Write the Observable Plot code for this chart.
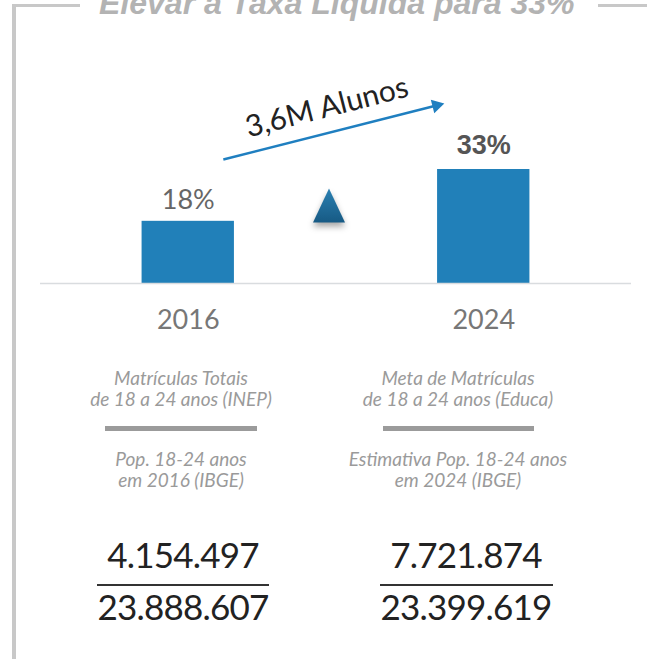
<!DOCTYPE html>
<html>
<head>
<meta charset="utf-8">
<script src="https://cdn.jsdelivr.net/npm/d3@7"></script>
<script src="https://cdn.jsdelivr.net/npm/@observablehq/plot@0.6"></script>
<style>
  html, body { margin: 0; padding: 0; background: #fff; }
  #wrap { position: relative; width: 647px; height: 659px; overflow: hidden; font-family: Lato, sans-serif; }
  #wrap svg { position: absolute; left: 0; top: 0; }
  .frame { position: absolute; background: #c8c8c8; z-index: 2; }
  .title { position: absolute; left: 99px; top: -15px; line-height: 36px; font-family: "Liberation Sans", Arial, sans-serif;
           font-weight: bold; font-style: italic; font-size: 32px; color: #b3b3b3; white-space: nowrap; z-index: 3; }
  .cap { position: absolute; width: 320px; text-align: center; font-style: italic; font-size: 19px; line-height: 21px;
         color: #9a9a9a; white-space: nowrap; }
  .capbar { position: absolute; height: 5px; background: #9b9b9b; }
  .num { position: absolute; width: 260px; text-align: center; font-size: 35px; line-height: 40px; color: #222;
         letter-spacing: -0.8px; white-space: nowrap; }
  .fracbar { position: absolute; height: 2px; background: #333; }
</style>
</head>
<body>
<div id="wrap"></div>
<script>
// ---- data ----
const title = "Elevar a Taxa Líquida para 33%";
const years = [2016, 2024];
const rates = [18, 33];
const rateLabels = ["18%", "33%"];
const growthLabel = "3,6M Alunos";
const numeratorCaptions = [["Matrículas Totais", "de 18 a 24 anos (INEP)"], ["Meta de Matrículas", "de 18 a 24 anos (Educa)"]];
const denominatorCaptions = [["Pop. 18-24 anos", "em 2016 (IBGE)"], ["Estimativa Pop. 18-24 anos", "em 2024 (IBGE)"]];
const numerators = ["4.154.497", "7.721.874"];
const denominators = ["23.888.607", "23.399.619"];

const bars = years.map((year, i) => ({year, rate: rates[i], label: rateLabels[i]}));

// annotation geometry (in data units)
const arrow = {x1: 2016.95, y1: 35.9, x2: 2022.72, y2: 51.55, label: growthLabel};
const marker = {x: d3.mean(years), y: 22.6};

const tallTriangle = {
  draw(ctx) { ctx.moveTo(0, -17); ctx.lineTo(16, 17); ctx.lineTo(-16, 17); ctx.closePath(); }
};

const blue = "#2180b9";

const svg = Plot.plot({
  width: 647,
  height: 345,
  marginLeft: 40,
  marginRight: 16,
  marginTop: 0,
  marginBottom: 62,
  style: {fontFamily: "Lato, sans-serif", background: "transparent", overflow: "visible"},
  x: {type: "linear", domain: [2012, 2028], range: [40, 631]},
  y: {domain: [0, 33], range: [283, 169], axis: null},
  marks: [
    Plot.rectY(bars, {x1: d => d.year - 1.25, x2: d => d.year + 1.25, y1: 0, y2: "rate", fill: blue}),
    Plot.ruleY([0], {stroke: "#d9dcdf", strokeWidth: 1.5}),
    Plot.text(bars.filter(d => d.rate < 30), {x: "year", y: "rate", text: "label", lineAnchor: "bottom", dy: -12,
      fontSize: 27, fill: "#666", fontFamily: "Lato"}),
    Plot.text(bars.filter(d => d.rate >= 30), {x: "year", y: "rate", text: "label", lineAnchor: "bottom", dy: -16,
      fontSize: 27, fontWeight: "bold", fill: "#555", fontFamily: "Liberation Sans, Arial, sans-serif"}),
    Plot.axisX({ticks: years, tickFormat: d => String(d), tickSize: 0, tickPadding: 26, fontSize: 27, color: "#777", label: null}),
    Plot.link([arrow], {x1: "x1", y1: "y1", x2: "x2", y2: "y2", stroke: "#1f7fc0", strokeWidth: 2.5}),
    Plot.dot([arrow], {x: "x2", y: "y2", symbol: "triangle", r: 5.2, fill: "#1f7fc0", stroke: null, rotate: 75.7}),
    Plot.text([arrow], {x: d => (d.x1 + d.x2) / 2, y: d => (d.y1 + d.y2) / 2, text: "label", rotate: -14.3,
      dx: -3, dy: -25, fontSize: 30, fill: "#222", fontFamily: "Lato"}),
    Plot.dot([marker], {x: "x", y: "y", dx: -7, symbol: tallTriangle, fill: "url(#triGrad)", stroke: null})
  ]
});

// gradient + shadow for the increase marker
const defs = d3.select(svg).insert("defs", ":first-child");
const grad = defs.append("linearGradient").attr("id", "triGrad").attr("x1", 0).attr("y1", 0).attr("x2", 0).attr("y2", 1);
grad.append("stop").attr("offset", "0%").attr("stop-color", "#2a80b2");
grad.append("stop").attr("offset", "100%").attr("stop-color", "#175a84");
d3.select(svg).selectAll('[fill="url(#triGrad)"]').style("filter", "drop-shadow(0px 4px 3px rgba(0,0,0,0.35))");

const wrap = document.getElementById("wrap");
wrap.appendChild(svg);

function add(cls, style, html) {
  const el = document.createElement("div");
  el.className = cls;
  Object.assign(el.style, style);
  if (html != null) el.innerHTML = html;
  wrap.appendChild(el);
  return el;
}

// frame
add("frame", {left: "12px", top: "4px", width: "4px", height: "660px"});
add("frame", {left: "12px", top: "4px", width: "68px", height: "3px"});
add("frame", {left: "598px", top: "4px", width: "49px", height: "3px"});
add("title", {}, title);

// lower caption blocks
const capCenters = [181, 458];
const capBars = [[105, 152], [383, 151]];
capCenters.forEach((c, i) => {
  add("cap", {left: (c - 160) + "px", top: "367px"}, numeratorCaptions[i].join("<br>"));
  add("capbar", {left: capBars[i][0] + "px", top: "426px", width: capBars[i][1] + "px"});
  add("cap", {left: (c - 160) + "px", top: "448px"}, denominatorCaptions[i].join("<br>"));
});

// fractions
const fracCenters = [183, 466];
const fracBars = [[97, 172], [380, 173]];
fracCenters.forEach((c, i) => {
  add("num", {left: (c - 130) + "px", top: "534px"}, numerators[i]);
  add("fracbar", {left: fracBars[i][0] + "px", top: "584px", width: fracBars[i][1] + "px"});
  add("num", {left: (c - 130) + "px", top: "586px"}, denominators[i]);
});
</script>
</body>
</html>
